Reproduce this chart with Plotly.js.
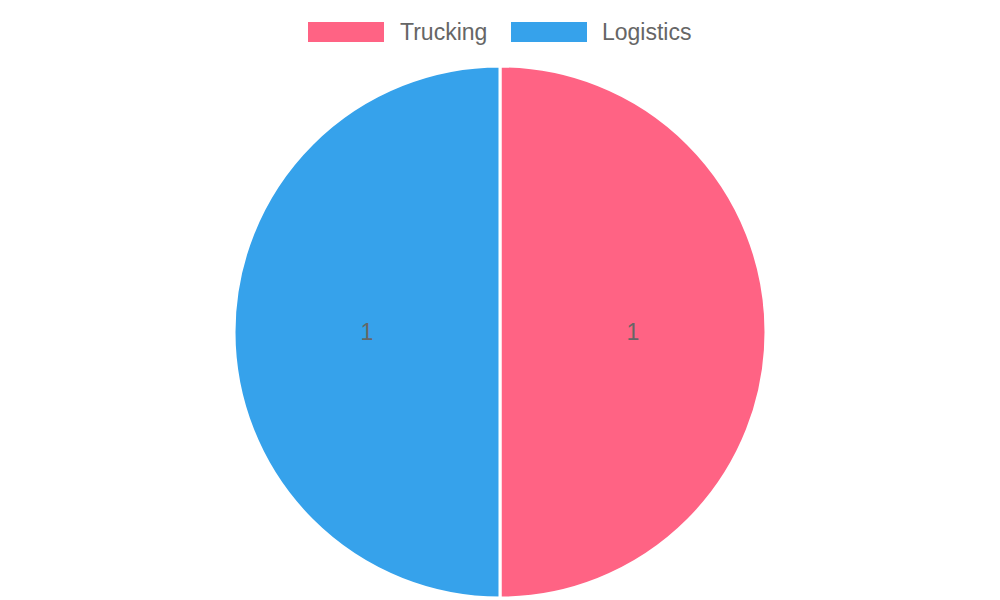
<!DOCTYPE html>
<html><head><meta charset="utf-8">
<script src="https://cdn.plot.ly/plotly-3.0.1.min.js"></script>
<style>html,body{margin:0;padding:0;background:#fff}</style>
</head><body>
<div id="chart" style="width:1000px;height:600px"></div>
<script>
const labels = ["Trucking", "Logistics"];
const values = [1, 1];
const colors = ["#FF6384", "#36A2EB"];

const W = 1000, H = 600, mt = 66, mb = 2;
const ph = H - mt - mb;
const px = x => x / W;
const py = y => (H - mb - y) / ph;

// custom legend (wide colour boxes like the reference)
const legendItems = [
  {box: [308, 384], textX: 398},
  {box: [511, 587], textX: 600}
];
const shapes = [], annotations = [];
labels.forEach((lab, i) => {
  const it = legendItems[i];
  shapes.push({type: "rect", xref: "paper", yref: "paper",
    x0: px(it.box[0]), x1: px(it.box[1]), y0: py(42), y1: py(22),
    fillcolor: colors[i], line: {width: 0}});
  annotations.push({xref: "paper", yref: "paper", x: px(it.textX), y: py(32),
    xanchor: "left", yanchor: "middle", showarrow: false, text: lab,
    font: {family: "Liberation Sans, Arial, sans-serif", size: 23, color: "#666"}});
});

Plotly.newPlot("chart", [{
  type: "pie", labels: labels, values: values, sort: false,
  direction: "clockwise", rotation: 0,
  marker: {colors: colors, line: {color: "#fff", width: 3}},
  textinfo: "value", textposition: "inside", insidetextorientation: "horizontal",
  textfont: {family: "Liberation Sans, Arial, sans-serif", size: 23, color: "#666"},
  hoverinfo: "label+value", showlegend: false
}], {
  width: W, height: H, margin: {l: 0, r: 0, t: mt, b: mb},
  paper_bgcolor: "#fff", showlegend: false,
  shapes: shapes, annotations: annotations
}, {displayModeBar: false, staticPlot: true});
</script>
</body></html>
